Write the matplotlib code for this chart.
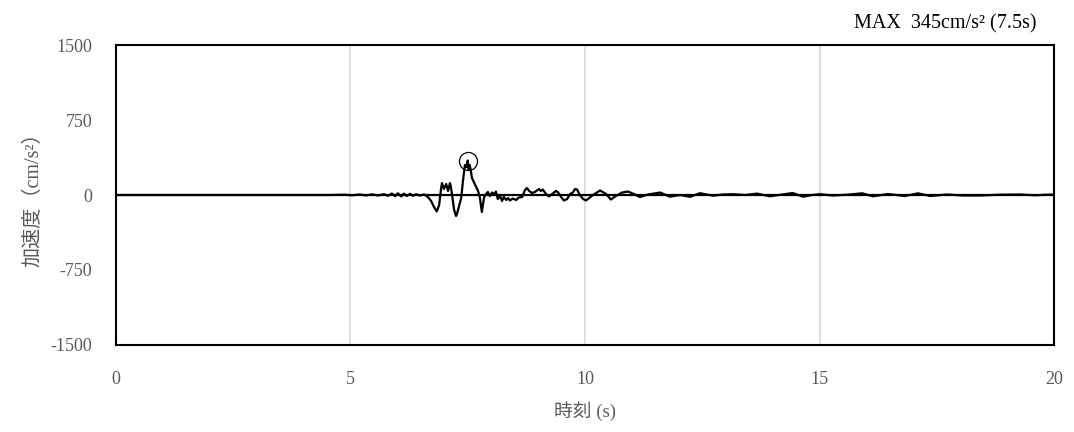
import matplotlib
matplotlib.use("Agg")
import matplotlib.pyplot as plt

plt.rcParams['font.family'] = ['Liberation Serif', 'Noto Sans CJK JP', 'DejaVu Sans']

time_s = [0.00, 4.56, 4.88, 5.03, 5.20, 5.33, 5.46, 5.59, 5.71, 5.80, 5.88, 5.95,
          6.01, 6.08, 6.14, 6.20, 6.27, 6.33, 6.40, 6.48, 6.57, 6.65, 6.72, 6.78,
          6.84, 6.89, 6.93, 6.95, 6.99, 7.04, 7.08, 7.12, 7.14, 7.16, 7.21, 7.25,
          7.27, 7.31, 7.36, 7.40, 7.44, 7.47, 7.50, 7.52, 7.54, 7.56, 7.59, 7.63,
          7.68, 7.72, 7.76, 7.80, 7.85, 7.89, 7.93, 7.97, 8.02, 8.06, 8.10, 8.14,
          8.19, 8.23, 8.27, 8.32, 8.36, 8.40, 8.46, 8.53, 8.59, 8.66, 8.72, 8.76,
          8.81, 8.87, 8.93, 9.02, 9.06, 9.10, 9.17, 9.23, 9.30, 9.38, 9.42, 9.49,
          9.55, 9.62, 9.68, 9.74, 9.79, 9.83, 9.89, 9.96, 10.02, 10.09, 10.17,
          10.32, 10.45, 10.55, 10.66, 10.79, 10.92, 11.04, 11.17, 11.34, 11.60,
          11.81, 12.03, 12.24, 12.45, 12.73, 12.94, 13.16, 13.41, 13.67, 13.94,
          14.20, 14.43, 14.65, 14.84, 15.01, 15.29, 15.59, 15.91, 16.14, 16.46,
          16.82, 17.10, 17.36, 17.72, 18.06, 18.42, 18.85, 19.28, 19.59, 19.85,
          20.00]
accel = [0, 0, 3, -3, 5, -4, 6, -5, 8, -8, 15, -12,
         18, -15, 14, -10, 12, -8, 8, -6, 6, -20, -60, -120,
         -165, -100, 60, 120, 60, 110, 40, 120, 80, 20, -150, -210,
         -190, -120, -30, 150, 300, 280, 345, 250, 300, 260, 170, 130,
         80, 40, -30, -170, -20, 10, 30, -10, 25, 5, 35, -40,
         -10, -60, -20, -50, -30, -55, -35, -50, -25, -20, 50, 70,
         40, 20, 30, 60, 40, 55, 10, -15, 10, 40, 30, -20,
         -55, -40, 10, 25, 60, 55, 0, -40, -55, -30, 0,
         45, 10, -45, -10, 25, 35, 10, -20, 5, 25,
         -17, 0, -18, 18, -7, 5, 8, 0, 14, -13,
         5, 20, -17, 0, 8, -5, 3, 17, -13, 10,
         -10, 17, -10, 5, -5, -5, 3, 5, -3, 3,
         3]

peak_t = 7.5
peak_a = 345
yticks = [-1500, -750, 0, 750, 1500]
ytick_labels = ['-1500', '-750', '0', '750', '1500']
xticks = [0, 5, 10, 15, 20]
xtick_labels = ['0', '5', '10', '15', '20']

fig = plt.figure(figsize=(10.74, 4.32), dpi=100)
ax = fig.add_axes([0.108, 0.2014, 0.8734, 0.6944])

ax.plot(time_s, accel, color='black', lw=1.6, zorder=3)
ax.axhline(0, color='black', lw=1.6, zorder=2)
ax.plot([peak_t], [peak_a], marker='o', ms=13, mfc='none', mec='black', mew=0.9, zorder=4)

ax.set_xlim(0, 20)
ax.set_ylim(-1500, 1500)
ax.set_xticks(xticks)
ax.set_xticklabels(xtick_labels)
ax.set_yticks(yticks)
ax.set_yticklabels(ytick_labels)
ax.tick_params(length=0, labelsize=13, colors='#595959')
ax.tick_params(axis='y', pad=17)
ax.tick_params(axis='x', pad=19)
ax.xaxis.grid(True, color='#d9d9d9', lw=1.2)
ax.set_axisbelow(True)
for sp in ax.spines.values():
    sp.set_color('black')
    sp.set_linewidth(1.5)

ax.set_xlabel('時刻 (s)', fontsize=13.5, color='#595959', labelpad=9)
ax.set_ylabel('加速度（cm/s²）', fontsize=14.5, color='#595959', labelpad=5)

fig.text(0.965, 0.945, 'MAX  345cm/s² (7.5s)', ha='right', va='center', fontsize=14.5, color='black')

fig.savefig('out.png', dpi=100)
